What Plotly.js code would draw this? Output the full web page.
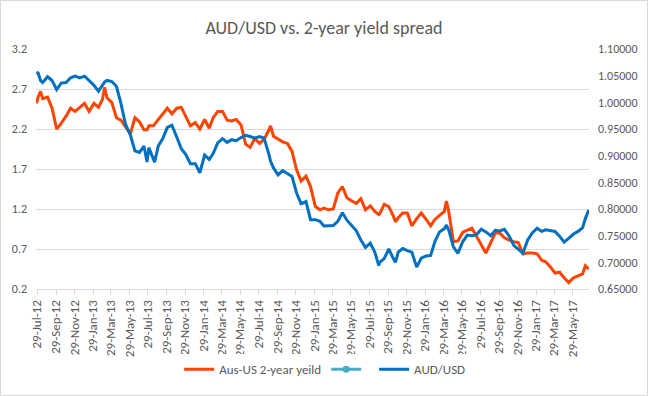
<!DOCTYPE html>
<html>
<head>
<meta charset="utf-8">
<script src="https://cdn.plot.ly/plotly-3.0.1.min.js"></script>
<style>
  html, body { margin: 0; padding: 0; background: #fff; }
  #chart { width: 648px; height: 396px; }
  #frame { position: absolute; left: 0; top: 0; width: 648px; height: 396px; box-sizing: border-box; border: 1px solid #d9d9d9; pointer-events: none; }
</style>
</head>
<body>
<div id="chart"></div>
<div id="frame"></div>
<script>
const dates = ['2012-07-26','2012-08-01','2012-08-09','2012-08-16','2012-09-01','2012-09-16','2012-10-01','2012-10-16','2012-11-01','2012-11-16','2012-12-01','2012-12-16',
'2013-01-01','2013-01-16','2013-02-01','2013-02-16','2013-03-01','2013-03-08','2013-03-16','2013-04-01','2013-04-16','2013-05-01','2013-05-16','2013-06-01','2013-06-16','2013-07-01','2013-07-16','2013-07-26','2013-08-01','2013-08-16','2013-08-20','2013-09-01','2013-09-16','2013-10-01','2013-10-16','2013-11-01','2013-11-16','2013-12-01','2013-12-16',
'2014-01-01','2014-01-16','2014-02-01','2014-02-16','2014-03-01','2014-03-16','2014-04-01','2014-04-16','2014-05-01','2014-05-16','2014-06-01','2014-06-16','2014-07-01','2014-07-16','2014-08-01','2014-08-16','2014-09-01','2014-09-06','2014-09-16','2014-10-01','2014-10-16','2014-11-01','2014-11-16','2014-12-01','2014-12-16',
'2015-01-01','2015-01-16','2015-02-01','2015-02-16','2015-03-01','2015-03-16','2015-04-01','2015-04-16','2015-05-01','2015-05-16','2015-06-01','2015-06-16','2015-07-01','2015-07-16','2015-08-01','2015-08-16','2015-08-29','2015-09-01','2015-09-16','2015-10-01','2015-10-16','2015-10-23','2015-11-01','2015-11-16','2015-12-01','2015-12-16',
'2016-01-01','2016-01-16','2016-02-01','2016-02-16','2016-03-01','2016-03-16','2016-04-01','2016-04-08','2016-04-16','2016-05-01','2016-05-16','2016-06-01','2016-06-16','2016-07-01','2016-07-16','2016-08-01','2016-08-16','2016-09-01','2016-09-16','2016-10-01','2016-10-16','2016-11-01','2016-11-16','2016-12-01','2016-12-16',
'2017-01-01','2017-01-16','2017-02-01','2017-02-16','2017-03-01','2017-03-16','2017-04-01','2017-04-16','2017-05-01','2017-05-16','2017-06-01','2017-06-16','2017-07-01','2017-07-10','2017-07-16','2017-07-21'];

const yieldSpread = [2.52,2.60,2.67,2.58,2.60,2.46,2.20,2.27,2.36,2.46,2.42,2.47,
2.52,2.42,2.52,2.47,2.57,2.72,2.59,2.53,2.34,2.31,2.23,2.14,2.34,2.29,2.19,2.19,2.24,2.24,2.26,2.32,2.39,2.46,2.39,2.46,2.47,2.36,2.24,
2.28,2.20,2.32,2.21,2.34,2.42,2.42,2.31,2.30,2.32,2.25,2.01,1.97,2.08,2.02,2.07,2.19,2.24,2.11,2.07,2.04,2.02,1.92,1.69,1.55,
1.61,1.48,1.23,1.19,1.21,1.19,1.20,1.40,1.48,1.34,1.30,1.27,1.33,1.19,1.24,1.17,1.13,1.14,1.26,1.23,1.11,1.04,1.09,1.15,1.15,0.99,
1.08,1.15,1.07,0.99,1.07,1.12,1.17,1.30,1.16,0.79,0.80,0.91,0.94,0.96,0.86,0.76,0.65,0.78,0.90,0.90,0.84,0.81,0.79,0.78,0.64,
0.65,0.65,0.64,0.56,0.54,0.48,0.40,0.41,0.34,0.28,0.34,0.37,0.39,0.49,0.46,0.45];

const audUsd = [1.056,1.055,1.041,1.037,1.048,1.041,1.024,1.036,1.037,1.046,1.049,1.046,
1.049,1.041,1.032,1.021,1.031,1.038,1.041,1.039,1.030,0.998,0.959,0.939,0.909,0.906,0.918,0.888,0.915,0.894,0.888,0.918,0.932,0.953,0.957,0.935,0.913,0.902,0.885,
0.885,0.868,0.901,0.893,0.904,0.924,0.932,0.925,0.930,0.928,0.934,0.938,0.936,0.933,0.936,0.933,0.902,0.890,0.877,0.864,0.872,0.866,0.861,0.830,0.810,
0.814,0.780,0.780,0.777,0.768,0.769,0.769,0.777,0.793,0.779,0.769,0.759,0.742,0.728,0.736,0.719,0.694,0.700,0.707,0.725,0.707,0.700,0.719,0.726,0.722,0.719,
0.691,0.708,0.712,0.713,0.739,0.757,0.763,0.770,0.760,0.729,0.717,0.739,0.751,0.750,0.752,0.762,0.757,0.750,0.760,0.759,0.762,0.749,0.732,0.725,0.717,
0.742,0.755,0.764,0.758,0.761,0.759,0.758,0.749,0.738,0.745,0.753,0.758,0.765,0.782,0.793,0.798];

const xTickLabels = ['29-Jul-12','29-Sep-12','29-Nov-12','29-Jan-13','29-Mar-13','29-May-13','29-Jul-13','29-Sep-13','29-Nov-13',
'29-Jan-14','29-Mar-14','29-May-14','29-Jul-14','29-Sep-14','29-Nov-14','29-Jan-15','29-Mar-15','29-May-15','29-Jul-15','29-Sep-15','29-Nov-15',
'29-Jan-16','29-Mar-16','29-May-16','29-Jul-16','29-Sep-16','29-Nov-16','29-Jan-17','29-Mar-17','29-May-17'];

const seriesNames = ['Aus-US 2-year yeild', ' ', 'AUD/USD'];

const monthIdx = {Jan:'01',Feb:'02',Mar:'03',Apr:'04',May:'05',Jun:'06',Jul:'07',Aug:'08',Sep:'09',Oct:'10',Nov:'11',Dec:'12'};
const xTickVals = xTickLabels.map(s => { const p = s.split('-'); return '20' + p[2] + '-' + monthIdx[p[1]] + '-' + p[0]; });

const FONT = 'Carlito, Calibri, Lato, sans-serif';
const GREY = '#595959';

const traces = [
  { x: dates, y: yieldSpread, name: seriesNames[0], type: 'scatter', mode: 'lines',
    line: { color: '#FF4300', width: 3 }, yaxis: 'y' },
  { x: [dates[0]], y: [null], name: seriesNames[1], type: 'scatter', mode: 'lines+markers',
    line: { color: '#4BACC6', width: 3 }, marker: { color: '#4BACC6', size: 7, symbol: 'circle' }, yaxis: 'y' },
  { x: dates, y: audUsd, name: seriesNames[2], type: 'scatter', mode: 'lines',
    line: { color: '#0070C0', width: 3 }, yaxis: 'y2' }
];

const layout = {
  width: 648, height: 396,
  margin: { l: 36, r: 59, t: 49, b: 104 },
  paper_bgcolor: '#fff', plot_bgcolor: '#fff',
  font: { family: FONT, color: GREY, size: 12 },
  title: { text: 'AUD/USD vs. 2-year yield spread', x: 0.5, xanchor: 'center', y: 0.929, yanchor: 'middle',
           font: { family: FONT, size: 18, color: GREY } },
  showlegend: true,
  legend: { orientation: 'h', x: 0.522, xanchor: 'center', y: -0.335, yanchor: 'middle',
            font: { family: FONT, size: 13, color: GREY }, itemwidth: 30, traceorder: 'normal' },
  xaxis: {
    type: 'date', range: ['2012-07-25', '2017-07-22'],
    tickmode: 'array', tickvals: xTickVals, ticktext: xTickLabels, tickangle: -90,
    ticks: 'outside', ticklen: 5, tickcolor: '#d9d9d9',
    showgrid: false, showline: true, linecolor: '#d9d9d9', linewidth: 1,
    tickfont: { family: FONT, size: 13, color: GREY }, zeroline: false, automargin: false
  },
  yaxis: {
    range: [0.2, 3.2], tick0: 0.2, dtick: 0.5, tickformat: '.1f',
    showgrid: true, gridcolor: '#d9d9d9', gridwidth: 1, zeroline: false, showline: false,
    ticks: '', ticklabelstandoff: 8, automargin: false,
    tickfont: { family: FONT, size: 12, color: GREY }
  },
  yaxis2: {
    range: [0.65, 1.10], tick0: 0.65, dtick: 0.05, tickformat: '.5f',
    overlaying: 'y', side: 'right', showgrid: false, zeroline: false, showline: false,
    ticks: '', ticklabelstandoff: 8, automargin: false,
    tickfont: { family: FONT, size: 12, color: GREY }
  }
};

Plotly.newPlot('chart', traces, layout, { displayModeBar: false, staticPlot: true });
</script>
</body>
</html>
